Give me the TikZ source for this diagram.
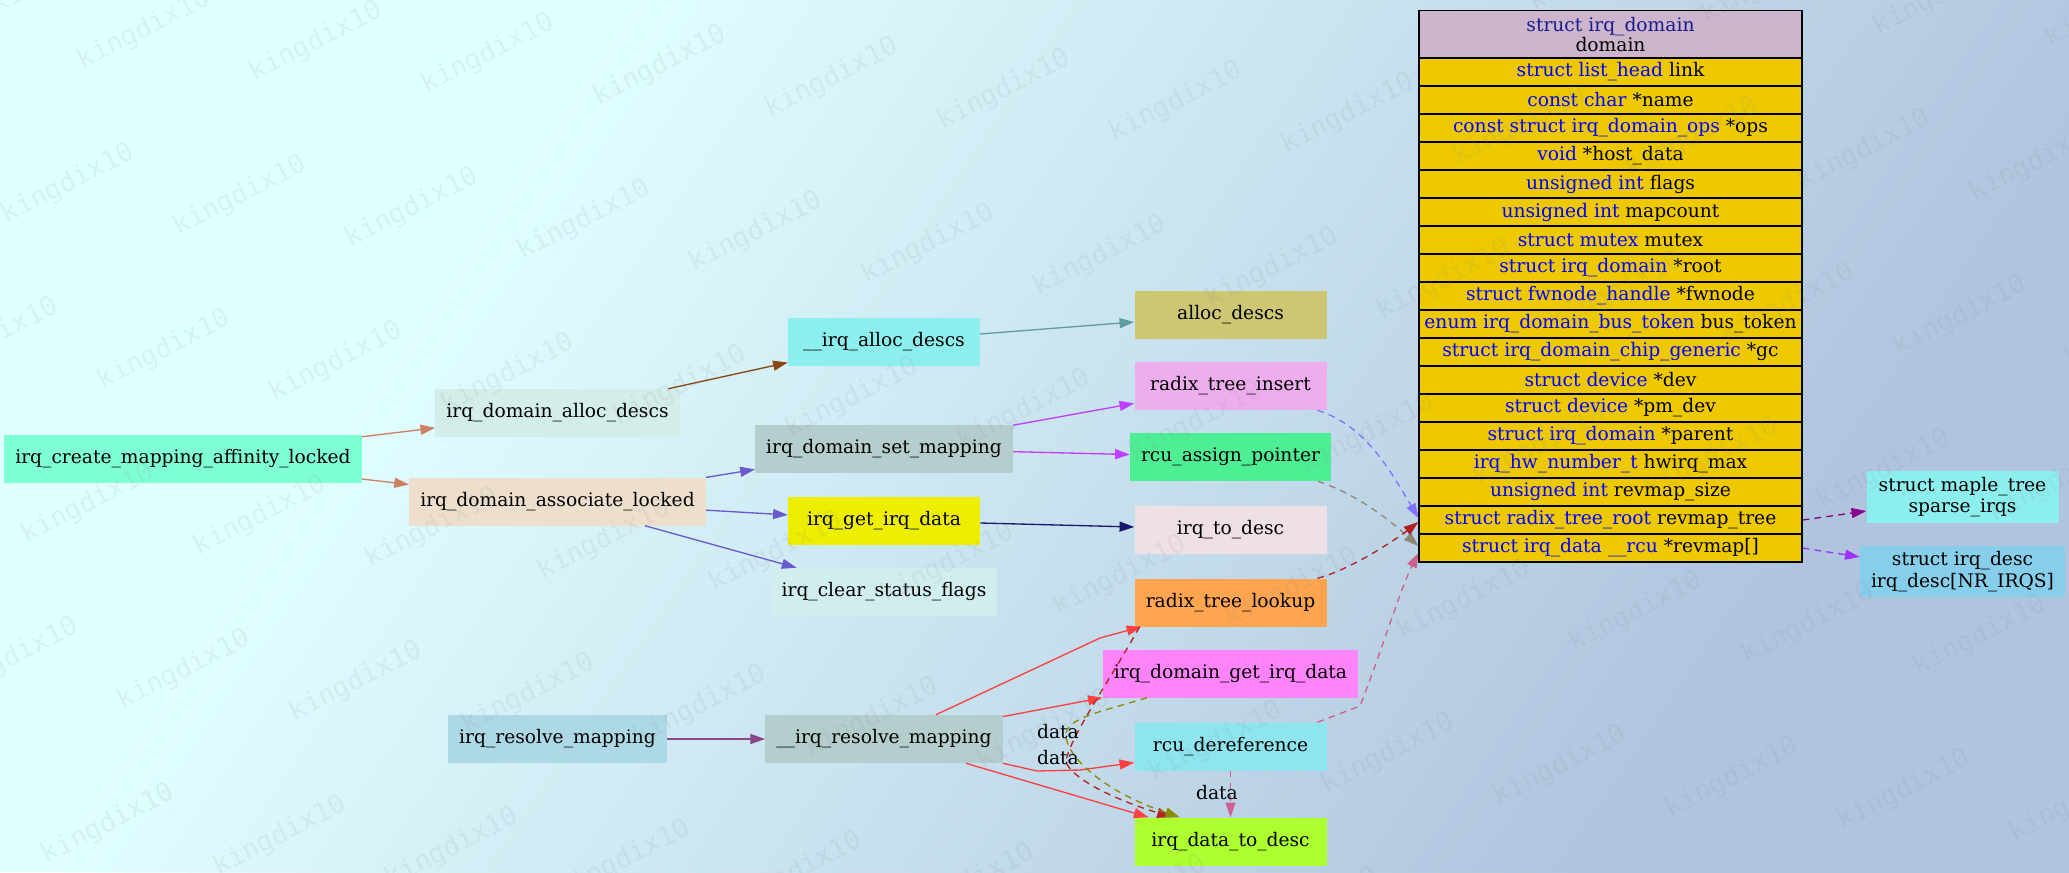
\documentclass[tikz,border=0pt]{standalone}
\usepackage{fontspec}
\setmainfont{DejaVu Serif}
\setmonofont{DejaVu Sans Mono}
\usetikzlibrary{arrows.meta}

% background
\definecolor{bgA}{HTML}{E0FFFF}
\definecolor{bgB}{HTML}{B0C4DE}
\definecolor{wmgray}{HTML}{7F8C8D}
% node fills
\definecolor{aquamarine}{HTML}{7FFFD4}
\definecolor{paleA}{HTML}{D2EDEA}
\definecolor{antique}{HTML}{EEDFCC}
\definecolor{slategrayTwo}{HTML}{8DEEEE}
\definecolor{khakiThree}{HTML}{CDC673}
\definecolor{lcyanThree}{HTML}{B4CDCD}
\definecolor{plumTwo}{HTML}{EEAEEE}
\definecolor{seagreenTwo}{HTML}{4EEE94}
\definecolor{yellowTwo}{HTML}{EEEE00}
\definecolor{lavblush}{HTML}{EEE0E5}
\definecolor{lcyanTwo}{HTML}{D1EEEE}
\definecolor{tanOne}{HTML}{FFA54F}
\definecolor{orchidOne}{HTML}{FF83FA}
\definecolor{cadetTwo}{HTML}{8EE5EE}
\definecolor{greenyellow}{HTML}{ADFF2F}
\definecolor{lightblue}{HTML}{ADD8E6}
\definecolor{skyblue}{HTML}{87CEEB}
\definecolor{thistleThree}{HTML}{CDB5CD}
\definecolor{rowgold}{HTML}{EEC900}
\definecolor{typeblue}{HTML}{0000FF}
\definecolor{hdrblue}{HTML}{1A1A8C}
% edge colours
\definecolor{eSalmon}{HTML}{CD8162}
\definecolor{eBrown}{HTML}{8B4513}
\definecolor{eCadet}{HTML}{5F9EA0}
\definecolor{eSlate}{HTML}{6A5ACD}
\definecolor{eOrchid}{HTML}{BF3EFF}
\definecolor{eNavy}{HTML}{191970}
\definecolor{ePlum}{HTML}{8B4789}
\definecolor{eRed}{HTML}{FF4040}
\definecolor{eLsb}{HTML}{8470FF}
\definecolor{eGrey}{HTML}{8B8878}
\definecolor{eFire}{HTML}{B22222}
\definecolor{eHot}{HTML}{CD6090}
\definecolor{eOlive}{HTML}{8B8B00}
\definecolor{eDmag}{HTML}{8B008B}
\definecolor{ePurple}{HTML}{9B30FF}

\begin{document}
\begin{tikzpicture}[x=0.75pt, y=-0.75pt,
  fn/.style={rectangle, draw=none, minimum width=144pt, minimum height=36pt,
    inner xsep=8.25pt, inner ysep=3pt, font=\fontsize{14}{16}\selectfont,
    text=black, align=center},
  hdr/.style={rectangle, draw=black, line width=0.9pt, fill=thistleThree,
    minimum width=287.25pt, minimum height=35.5pt, inner sep=0pt,
    font=\fontsize{14}{14.5}\selectfont, align=center},
  cell/.style={rectangle, draw=black, line width=0.9pt, fill=rowgold,
    minimum width=287.25pt, minimum height=21pt, inner sep=0pt,
    font=\fontsize{14}{16}\selectfont},
  call/.style={-{Triangle[length=11pt,width=7.5pt]}, line width=1pt},
  ref/.style={call, dash pattern=on 5pt off 4pt},
  lbl/.style={font=\fontsize{14}{16}\selectfont, inner sep=1pt, text=black},
  wm/.style={font=\ttfamily\fontsize{20}{20}\selectfont, text=wmgray,
    text opacity=0.11, rotate=27, inner sep=0pt}
]
\useasboundingbox (0,0) rectangle (2069,872);

% diagonal background ramp
\fill[bgA] (0,0) rectangle (2069,872);
\begin{scope}
  \clip (0,0) rectangle (2069,872);
  \foreach \i in {1,...,100} {
    \pgfmathsetmacro{\sx}{625+15.5*\i}
    \pgfmathsetmacro{\sb}{\sx-593}
    \fill[bgB!\i!bgA] (\sx,0) -- (2300,0) -- (2300,872) -- (\sb,872) -- cycle;
  }
\end{scope}

% call graph nodes
\node[fn, fill=aquamarine] (create) at (183,458.5) {irq\_create\_mapping\_affinity\_locked};
\node[fn, fill=paleA] (idad) at (557.5,413) {irq\_domain\_alloc\_descs};
\node[fn, fill=antique] (ial) at (557.5,501.5) {irq\_domain\_associate\_locked};
\node[fn, fill=lightblue] (irm) at (557.5,739) {irq\_resolve\_mapping};
\node[fn, fill=slategrayTwo] (iad) at (884,341.5) {\_\_irq\_alloc\_descs};
\node[fn, fill=lcyanThree] (sm) at (884,448.5) {irq\_domain\_set\_mapping};
\node[fn, fill=yellowTwo] (gid) at (884,520.5) {irq\_get\_irq\_data};
\node[fn, fill=lcyanTwo] (csf) at (884,592) {irq\_clear\_status\_flags};
\node[fn, fill=lcyanThree] (uirm) at (884,739) {\_\_irq\_resolve\_mapping};
\node[fn, fill=khakiThree] (ad) at (1230.5,314.5) {alloc\_descs};
\node[fn, fill=plumTwo] (rti) at (1230.5,386) {radix\_tree\_insert};
\node[fn, fill=seagreenTwo] (rap) at (1230.5,457) {rcu\_assign\_pointer};
\node[fn, fill=lavblush] (itd) at (1230.5,529.5) {irq\_to\_desc};
\node[fn, fill=tanOne] (rtl) at (1230.5,602.5) {radix\_tree\_lookup};
\node[fn, fill=orchidOne] (gdi) at (1230.5,673.5) {irq\_domain\_get\_irq\_data};
\node[fn, fill=cadetTwo] (rd) at (1230.5,746.5) {rcu\_dereference};
\node[fn, fill=greenyellow] (dtd) at (1230.5,841.5) {irq\_data\_to\_desc};
\node[fn, fill=slategrayTwo, minimum height=39pt] (maple) at (1962.5,497) {struct maple\_tree\\sparse\_irqs};
\node[fn, fill=skyblue, minimum height=38pt] (idesc) at (1962.5,571.5) {struct irq\_desc\\irq\_desc[NR\_IRQS]};

% struct irq_domain record
\node[hdr] (dom) at (1610.5,34.4) {{\color{hdrblue}struct irq\_domain}\\domain};
\node[cell] (flink) at (1610.5,72) {{\color{typeblue}struct list\_head} link};
\node[cell] (fname) at (1610.5,100) {{\color{typeblue}const char} *name};
\node[cell] (fops) at (1610.5,128) {{\color{typeblue}const struct irq\_domain\_ops} *ops};
\node[cell] (fhost) at (1610.5,156) {{\color{typeblue}void} *host\_data};
\node[cell] (fflags) at (1610.5,184) {{\color{typeblue}unsigned int} flags};
\node[cell] (fmapc) at (1610.5,212) {{\color{typeblue}unsigned int} mapcount};
\node[cell] (fmutex) at (1610.5,240) {{\color{typeblue}struct mutex} mutex};
\node[cell] (froot) at (1610.5,268) {{\color{typeblue}struct irq\_domain} *root};
\node[cell] (ffw) at (1610.5,296) {{\color{typeblue}struct fwnode\_handle} *fwnode};
\node[cell] (fbus) at (1610.5,324) {{\color{typeblue}enum irq\_domain\_bus\_token} bus\_token};
\node[cell] (fgc) at (1610.5,352) {{\color{typeblue}struct irq\_domain\_chip\_generic} *gc};
\node[cell] (fdev) at (1610.5,380) {{\color{typeblue}struct device} *dev};
\node[cell] (fpm) at (1610.5,408) {{\color{typeblue}struct device} *pm\_dev};
\node[cell] (fpar) at (1610.5,436) {{\color{typeblue}struct irq\_domain} *parent};
\node[cell] (fhw) at (1610.5,464) {{\color{typeblue}irq\_hw\_number\_t} hwirq\_max};
\node[cell] (fsize) at (1610.5,492) {{\color{typeblue}unsigned int} revmap\_size};
\node[cell] (rtree) at (1610.5,520) {{\color{typeblue}struct radix\_tree\_root} revmap\_tree};
\node[cell] (rmap) at (1610.5,548) {{\color{typeblue}struct irq\_data \_\_rcu} *revmap[]};

% calls
\draw[call, eSalmon] (create) -- (idad);
\draw[call, eSalmon] (create) -- (ial);
\draw[call, eBrown] (idad) -- (iad);
\draw[call, eCadet] (iad) -- (ad);
\draw[call, eSlate] (ial) -- (sm);
\draw[call, eSlate] (ial) -- (gid);
\draw[call, eSlate] (ial) -- (csf);
\draw[call, eOrchid] (sm) -- (rti);
\draw[call, eOrchid] (sm) -- (rap);
\draw[call, eNavy] (gid) -- (itd);
\draw[call, ePlum] (irm) -- (uirm);
\draw[call, eRed] (uirm) -- (1100,638) -- (rtl);
\draw[call, eRed] (uirm) -- (gdi);
\draw[call, eRed] (uirm.south east) -- (1037,771) -- (1080,770) -- ([yshift=-12pt]rd.west);
\draw[call, eRed] (uirm) -- (dtd);

% data references
\draw[ref, eLsb] ([xshift=-7pt]rti.south east) .. controls (1365,425) and (1390,470) .. ([yshift=1.5pt]rtree.west);
\draw[ref, eGrey] ([xshift=-10pt]rap.south east) .. controls (1360,495) and (1395,525) .. ([yshift=1.5pt]rmap.west);
\draw[ref, eFire] ([xshift=-7pt]rtl.north east) .. controls (1350,570) and (1395,540) .. ([yshift=-1.5pt]rtree.west);
\draw[ref, eHot] ([xshift=-7pt]rd.north east) -- (1360,706) .. controls (1382,650) and (1400,590) .. ([yshift=-3.75pt]rmap.west);
\draw[ref, eFire] ([xshift=4pt]rtl.south west) .. controls (1110,680) and (1068,740) .. (1066,762) .. controls (1072,778) and (1110,798) .. ([xshift=-44pt]dtd.north);
\draw[ref, eOlive] ([xshift=-62.6pt]gdi.south) .. controls (1100,712) and (1066,718) .. (1066,735) .. controls (1066,755) and (1100,790) .. ([xshift=-38pt]dtd.north);
\draw[ref, eHot] (rd) -- (dtd);
\draw[ref, eDmag] (rtree.east) -- ([yshift=-10.5pt]maple.west);
\draw[ref, ePurple] (rmap.east) -- ([yshift=10.9pt]idesc.west);

% edge labels
\node[lbl] (lblA) at (1058,732) {data};
\node[lbl] (lblB) at (1058,758) {data};
\node[lbl] (lblC) at (1217,793) {data};

% tiled watermark
\begin{scope}
  \clip (0,0) rectangle (2069,872);
  \foreach \i in {-3,...,15} {
    \foreach \j in {-2,...,6} {
      \pgfmathsetmacro{\wx}{316+172*\i-76*\j}
      \pgfmathsetmacro{\wy}{42+12*\i+154*\j}
      \node[wm] (wm-\i-\j) at (\wx,\wy) {kingdix10};
    }
  }
\end{scope}
\end{tikzpicture}
\end{document}
